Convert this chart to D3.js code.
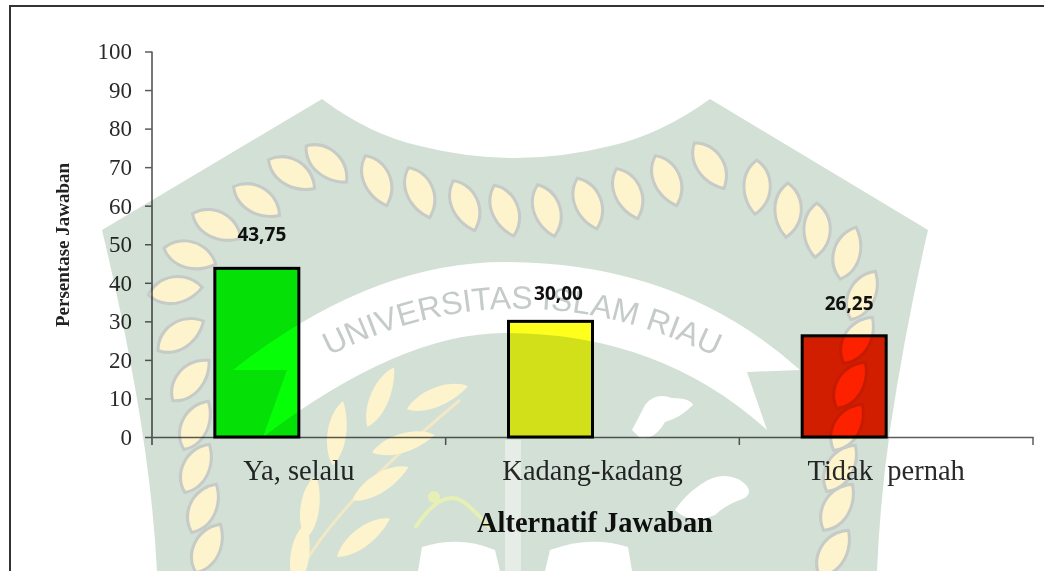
<!DOCTYPE html>
<meta charset="utf-8">
<head>
  <title>Alternatif Jawaban</title>
</head>
<style>
html, body { margin: 0; padding: 0; background: #fff; }
svg { display: block; }
.tick text { font-family: "Liberation Serif", serif; fill: #2a2a2a; }
.axis path, .axis line { stroke: #5c5c5c; stroke-width: 1.5px; }
</style>
<body>
<svg width="1044" height="571"></svg>
<script src="https://cdnjs.cloudflare.com/ajax/libs/d3/7.8.5/d3.min.js"></script>
<script>

// chart data
var categories = ['Ya, selalu', 'Kadang-kadang', 'Tidak  pernah'];
var values = [43.75, 30.00, 26.25];
var valueLabels = ['43,75', '30,00', '26,25'];
var barColors = ['#06ff06', '#ffff1e', '#ff2200'];
var yTicks = [0, 10, 20, 30, 40, 50, 60, 70, 80, 90, 100];

// the value labels were placed by hand in the original: dx, dy from the bar top centre
var labelNudge = [[5, -27], [8, -21], [5, -26]];

// watermark pieces (decoration only): x, y, leaf angle
var ropeLeaves = [
  [207,548,-70],[203,508,-70],[196,468,-70],[195,425,-70],[190,380,-55],[180,335,-40],[175,290,-15],[190,255,10],[217,225,20],[257,200,25],[292,173,25],[327,163,35],
  [377,180,60],[420,192,60],[465,205,60],[505,210,62],[547,210,65],[588,203,62],[628,193,60],[667,180,60],[710,165,50],
  [757,187,85],[788,210,85],[817,230,85],[847,253,-80],[862,295,-70],[857,340,-65],[850,385,-65],[847,427,-65],[840,468,-65],[837,507,-65],[833,553,-65]
];
var wheatLeaves = [
  [380,397,70],[437,397,25],[337,433,85],[403,443,20],[310,507,85],[380,483,35],[363,537,40],[300,555,85]
];

var svg = d3.select('svg');

var x = d3.scaleBand().domain(categories).range([152, 1033]);
var series = d3.scaleBand().domain(['jawaban', 'empty']).range([0, x.bandwidth()]).paddingOuter(0.748).paddingInner(0);
var y = d3.scaleLinear().domain([0, 100]).range([437, 51.5]);

// frame, open on the right and at the bottom
svg.append('path').attr('d', 'M10,571V6H1044').attr('fill', 'none').attr('stroke', '#333').attr('stroke-width', 2);

var yAxis = svg.append('g').attr('class', 'axis').attr('transform', 'translate(152,0)')
  .call(d3.axisLeft(y).tickValues(yTicks).tickSize(7).tickPadding(13).tickSizeOuter(0));
yAxis.select('.domain').attr('d', 'M0,51.5V445').style('stroke-width', '2px').style('stroke', '#777');
yAxis.selectAll('text').style('font-size', '23px');

var xAxis = svg.append('g').attr('class', 'axis').attr('transform', 'translate(0,437)')
  .call(d3.axisBottom(x).tickSize(0).tickPadding(23));
xAxis.selectAll('.tick line').remove();
xAxis.selectAll('text').style('font-size', '28.5px').style('white-space', 'pre');
xAxis.selectAll('.sep').data(x.domain()).enter().append('line')
  .attr('x1', function(d) { return x(d) + x.step(); })
  .attr('x2', function(d) { return x(d) + x.step(); })
  .attr('y1', 0).attr('y2', 8);

// bars
svg.selectAll('.bar').data(values).enter().append('rect')
  .attr('class', 'bar')
  .attr('x', function(d, i) { return x(categories[i]) + series('jawaban'); })
  .attr('y', function(d) { return y(d); })
  .attr('width', series.bandwidth())
  .attr('height', function(d) { return y(0) - y(d); })
  .attr('fill', function(d, i) { return barColors[i]; })
  .attr('stroke', '#000')
  .attr('stroke-width', 3);

svg.selectAll('.val').data(values).enter().append('text')
  .attr('class', 'val')
  .attr('x', function(d, i) { return x(categories[i]) + series('jawaban') + series.bandwidth() / 2 + labelNudge[i][0]; })
  .attr('y', function(d, i) { return y(d) + labelNudge[i][1]; })
  .attr('text-anchor', 'middle')
  .style('font-family', '"Open Sans", sans-serif')
  .style('font-weight', 700)
  .style('font-size', '19px')
  .style('fill', '#111')
  .text(function(d, i) { return valueLabels[i]; });

// axis titles
svg.append('text')
  .attr('transform', 'translate(69,245) rotate(-90)')
  .attr('text-anchor', 'middle')
  .style('font-family', '"Liberation Serif", serif')
  .style('font-weight', 700)
  .style('font-size', '19px')
  .style('fill', '#222')
  .text('Persentase Jawaban');

svg.append('text')
  .attr('x', 595).attr('y', 532)
  .attr('text-anchor', 'middle')
  .style('font-family', '"Liberation Serif", serif')
  .style('font-weight', 700)
  .style('font-size', '28.4px')
  .style('fill', '#111')
  .text('Alternatif Jawaban');

// watermark lies over everything, multiplied like the scanned page
var mark = svg.append('g').style('mix-blend-mode', 'multiply');

mark.append('path')
  .attr('d', 'M322,99 Q370,135 420,146 Q515,170 610,146 Q660,135 710,99 L928,230 Q905,330 890,430 Q880,500 877,571 L157,571 Q150,430 102,230 Z')
  .attr('fill', '#d2e0d6');

// rope of yellow leaves with a grey outline
var leaf = 'M-25,-2 C-12,-17 14,-15 25,4 C10,15 -14,15 -25,-2 Z';
mark.selectAll('.rope').data(ropeLeaves).enter().append('path')
  .attr('class', 'rope')
  .attr('d', leaf)
  .attr('transform', function(d) { return 'translate(' + d[0] + ',' + d[1] + ') rotate(' + d[2] + ')'; })
  .attr('fill', '#fdf3cc')
  .attr('stroke', '#c6cbc8')
  .attr('stroke-width', 6)
  .attr('paint-order', 'stroke');

// ribbon with the university name
mark.append('path')
  .attr('d', 'M233,370 Q370,262 505,262 Q680,262 800,370 L747,372 L767,430 Q660,333 505,333 Q400,333 263,437 L287,370 Z')
  .attr('fill', '#fff');
mark.append('path').attr('id', 'ribbonLine').attr('d', 'M300,372 Q515,245 745,372').attr('fill', 'none');
mark.append('text')
  .style('font-family', '"Liberation Sans", sans-serif')
  .style('font-size', '32px')
  .style('fill', '#c4cbc8')
  .append('textPath')
  .attr('href', '#ribbonLine')
  .attr('startOffset', '50%')
  .attr('text-anchor', 'middle')
  .text('UNIVERSITAS ISLAM RIAU');

// wheat branch
mark.append('path').attr('d', 'M300,571 Q340,500 460,400').attr('fill', 'none').attr('stroke', '#f3e8c6').attr('stroke-width', 3);
mark.selectAll('.wheat').data(wheatLeaves).enter().append('path')
  .attr('class', 'wheat')
  .attr('d', leaf)
  .attr('transform', function(d) { return 'translate(' + d[0] + ',' + d[1] + ') rotate(' + (-d[2]) + ') scale(1.3,0.8)'; })
  .attr('fill', '#fdf3cc');

// figure, map pieces, book and stem of the crest
mark.append('path').attr('d', 'M415,528 Q440,490 460,500 Q470,505 490,528').attr('fill', 'none').attr('stroke', '#e6efb4').attr('stroke-width', 4);
mark.append('circle').attr('cx', 434).attr('cy', 497).attr('r', 6).attr('fill', '#e6efb4');
mark.append('path').attr('d', 'M632,430 Q640,415 645,405 Q655,392 672,398 Q690,398 693,405 Q680,418 665,422 Q655,440 640,438 Z').attr('fill', '#fff');
mark.append('path').attr('d', 'M675,510 Q685,495 700,485 Q720,470 740,480 Q755,490 745,498 Q725,505 715,515 Q690,525 675,510 Z').attr('fill', '#fff');
mark.append('rect').attr('x', 505).attr('y', 440).attr('width', 16).attr('height', 131).attr('fill', '#e6ece6');
mark.append('path').attr('d', 'M418,571 L422,547 Q460,535 495,550 L500,571 Z').attr('fill', '#fff');
mark.append('path').attr('d', 'M545,571 L550,550 Q590,535 628,547 L632,571 Z').attr('fill', '#fff');
</script>
</body>
</html>
